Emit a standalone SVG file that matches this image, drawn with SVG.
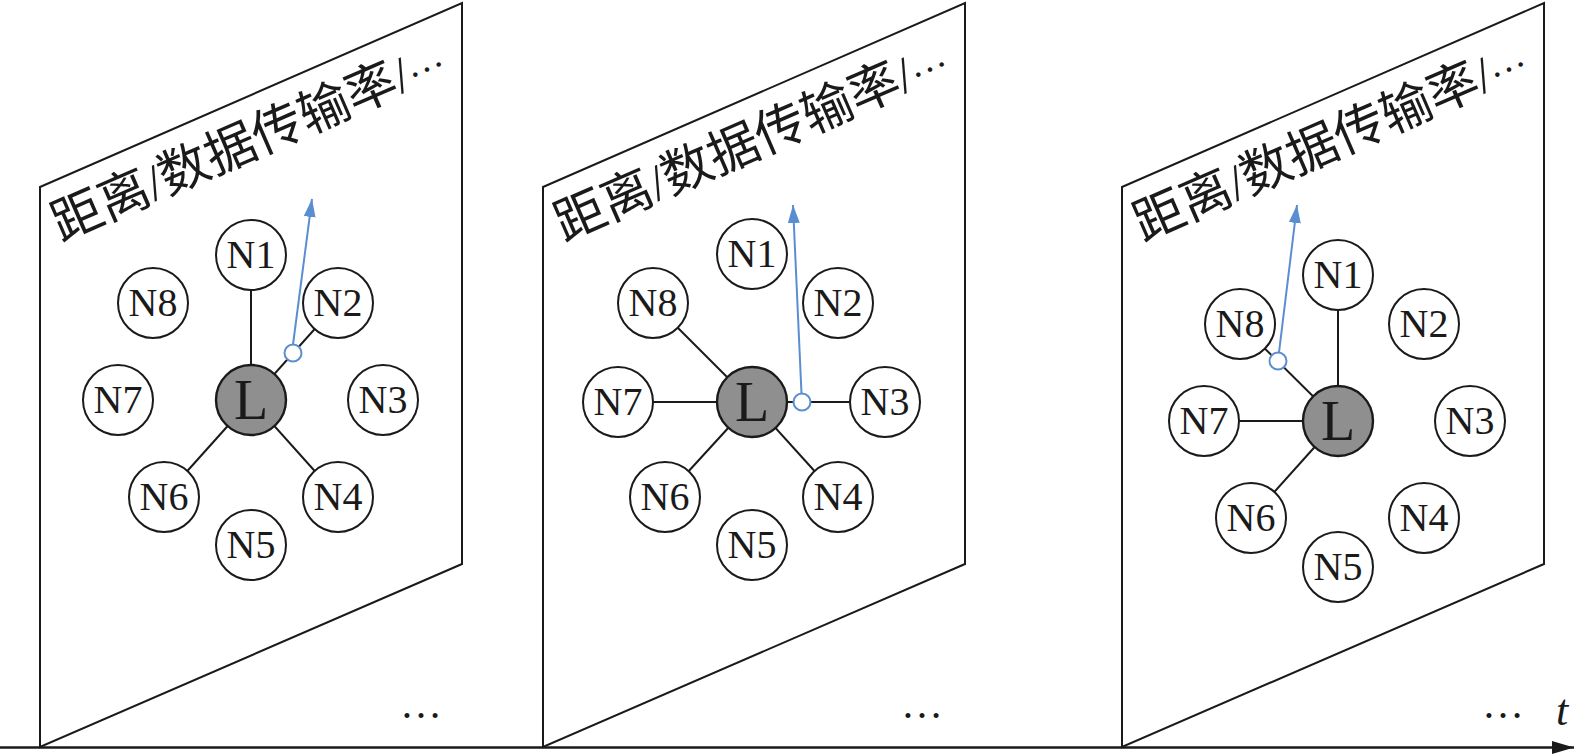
<svg xmlns="http://www.w3.org/2000/svg" width="1575" height="754" viewBox="0 0 1575 754">
<style>
.panel{fill:#fff;stroke:#1a1a1a;stroke-width:2;stroke-linejoin:miter}
.node{fill:#fff;stroke:#1a1a1a;stroke-width:2}
.leader{fill:#8f8f8f;stroke:#1a1a1a;stroke-width:2.4}
.lbl{font-family:"Liberation Serif","Times New Roman",serif;font-size:40px;fill:#1a1a1a;text-anchor:middle}
.llbl{font-family:"Liberation Serif","Times New Roman",serif;font-size:56px;fill:#1a1a1a;text-anchor:middle}
.edge{stroke:#1a1a1a;stroke-width:2;fill:none}
.blue{stroke:#5b8ed0;stroke-width:2;fill:none}
.bluec{stroke:#5b8ed0;stroke-width:2;fill:#fff}
.title{font-family:"Liberation Serif","Noto Sans CJK SC",serif;font-size:51px;fill:#1a1a1a}
.dots{font-family:"Liberation Serif","Times New Roman",serif;font-size:42px;fill:#1a1a1a;text-anchor:middle}
.axis{stroke:#1a1a1a;stroke-width:2.5;fill:none}
</style>
<defs>
<marker id="ab" markerUnits="userSpaceOnUse" markerWidth="20" markerHeight="14" refX="18" refY="6" orient="auto">
<path d="M0,0 L18,6 L0,12 z" fill="#5b8ed0"/>
</marker>
<marker id="ak" markerUnits="userSpaceOnUse" markerWidth="24" markerHeight="14" refX="22" refY="6.5" orient="auto">
<path d="M0,0 L22,6.5 L0,13 z" fill="#1a1a1a"/>
</marker>
</defs>

<g id="panels">
<polygon id="panel1" class="panel" points="40,187 462,3 462,564 40,747"/>
<polygon id="panel2" class="panel" points="543,187 965,3 965,564 543,747"/>
<polygon id="panel3" class="panel" points="1122,187 1544,3 1544,564 1122,747"/>
<text class="title" transform="translate(61,242) rotate(-23.56)">距离/数据传输率/<tspan font-size="38" dy="-10">…</tspan></text>
<text class="title" transform="translate(564,242) rotate(-23.56)">距离/数据传输率/<tspan font-size="38" dy="-10">…</tspan></text>
<text class="title" transform="translate(1143,242) rotate(-23.56)">距离/数据传输率/<tspan font-size="38" dy="-10">…</tspan></text>
<text class="dots" x="421" y="718">…</text>
<text class="dots" x="922" y="718">…</text>
<text class="dots" x="1503" y="718">…</text>
</g>

<g id="connectors">
<line class="edge" x1="251" y1="400" x2="251" y2="255"/>
<line class="edge" x1="251" y1="400" x2="338" y2="303"/>
<line class="edge" x1="251" y1="400" x2="338" y2="497"/>
<line class="edge" x1="251" y1="400" x2="164" y2="497"/>
<line class="edge" x1="752" y1="402" x2="653" y2="303"/>
<line class="edge" x1="752" y1="402" x2="618" y2="402"/>
<line class="edge" x1="752" y1="402" x2="665" y2="497"/>
<line class="edge" x1="752" y1="402" x2="838" y2="497"/>
<line class="edge" x1="752" y1="402" x2="885" y2="402"/>
<line class="edge" x1="1338" y1="421" x2="1338" y2="275"/>
<line class="edge" x1="1338" y1="421" x2="1240" y2="324"/>
<line class="edge" x1="1338" y1="421" x2="1204" y2="421"/>
<line class="edge" x1="1338" y1="421" x2="1251" y2="518"/>
<circle class="bluec" cx="293" cy="353" r="8.5"/>
<line class="blue" x1="293" y1="344.5" x2="312" y2="199" marker-end="url(#ab)"/>
<circle class="bluec" cx="802" cy="402" r="8.5"/>
<line class="blue" x1="801.5" y1="393.5" x2="793" y2="205" marker-end="url(#ab)"/>
<circle class="bluec" cx="1278" cy="361" r="8.5"/>
<line class="blue" x1="1279" y1="352.5" x2="1297" y2="205" marker-end="url(#ab)"/>
<line class="axis" x1="0" y1="747.5" x2="1574" y2="747.5" marker-end="url(#ak)"/>
<text x="1556" y="725" font-family="Liberation Serif, serif" font-style="italic" font-size="44" fill="#1a1a1a">t</text>
</g>

<g id="p1-N1"><circle class="node" cx="251" cy="255" r="35"/><text class="lbl" x="251" y="268">N1</text></g>
<g id="p1-N2"><circle class="node" cx="338" cy="303" r="35"/><text class="lbl" x="338" y="316">N2</text></g>
<g id="p1-N3"><circle class="node" cx="383" cy="400" r="35"/><text class="lbl" x="383" y="413">N3</text></g>
<g id="p1-N4"><circle class="node" cx="338" cy="497" r="35"/><text class="lbl" x="338" y="510">N4</text></g>
<g id="p1-N5"><circle class="node" cx="251" cy="545" r="35"/><text class="lbl" x="251" y="558">N5</text></g>
<g id="p1-N6"><circle class="node" cx="164" cy="497" r="35"/><text class="lbl" x="164" y="510">N6</text></g>
<g id="p1-N7"><circle class="node" cx="118" cy="400" r="35"/><text class="lbl" x="118" y="413">N7</text></g>
<g id="p1-N8"><circle class="node" cx="153" cy="303" r="35"/><text class="lbl" x="153" y="316">N8</text></g>
<g id="p1-L"><circle class="leader" cx="251" cy="400" r="35"/><text class="llbl" x="251" y="419">L</text></g>

<g id="p2-N1"><circle class="node" cx="752" cy="254" r="35"/><text class="lbl" x="752" y="267">N1</text></g>
<g id="p2-N2"><circle class="node" cx="838" cy="303" r="35"/><text class="lbl" x="838" y="316">N2</text></g>
<g id="p2-N3"><circle class="node" cx="885" cy="402" r="35"/><text class="lbl" x="885" y="415">N3</text></g>
<g id="p2-N4"><circle class="node" cx="838" cy="497" r="35"/><text class="lbl" x="838" y="510">N4</text></g>
<g id="p2-N5"><circle class="node" cx="752" cy="545" r="35"/><text class="lbl" x="752" y="558">N5</text></g>
<g id="p2-N6"><circle class="node" cx="665" cy="497" r="35"/><text class="lbl" x="665" y="510">N6</text></g>
<g id="p2-N7"><circle class="node" cx="618" cy="402" r="35"/><text class="lbl" x="618" y="415">N7</text></g>
<g id="p2-N8"><circle class="node" cx="653" cy="303" r="35"/><text class="lbl" x="653" y="316">N8</text></g>
<g id="p2-L"><circle class="leader" cx="752" cy="402" r="35"/><text class="llbl" x="752" y="421">L</text></g>

<g id="p3-N1"><circle class="node" cx="1338" cy="275" r="35"/><text class="lbl" x="1338" y="288">N1</text></g>
<g id="p3-N2"><circle class="node" cx="1424" cy="324" r="35"/><text class="lbl" x="1424" y="337">N2</text></g>
<g id="p3-N3"><circle class="node" cx="1470" cy="421" r="35"/><text class="lbl" x="1470" y="434">N3</text></g>
<g id="p3-N4"><circle class="node" cx="1424" cy="518" r="35"/><text class="lbl" x="1424" y="531">N4</text></g>
<g id="p3-N5"><circle class="node" cx="1338" cy="567" r="35"/><text class="lbl" x="1338" y="580">N5</text></g>
<g id="p3-N6"><circle class="node" cx="1251" cy="518" r="35"/><text class="lbl" x="1251" y="531">N6</text></g>
<g id="p3-N7"><circle class="node" cx="1204" cy="421" r="35"/><text class="lbl" x="1204" y="434">N7</text></g>
<g id="p3-N8"><circle class="node" cx="1240" cy="324" r="35"/><text class="lbl" x="1240" y="337">N8</text></g>
<g id="p3-L"><circle class="leader" cx="1338" cy="421" r="35"/><text class="llbl" x="1338" y="440">L</text></g>
</svg>
